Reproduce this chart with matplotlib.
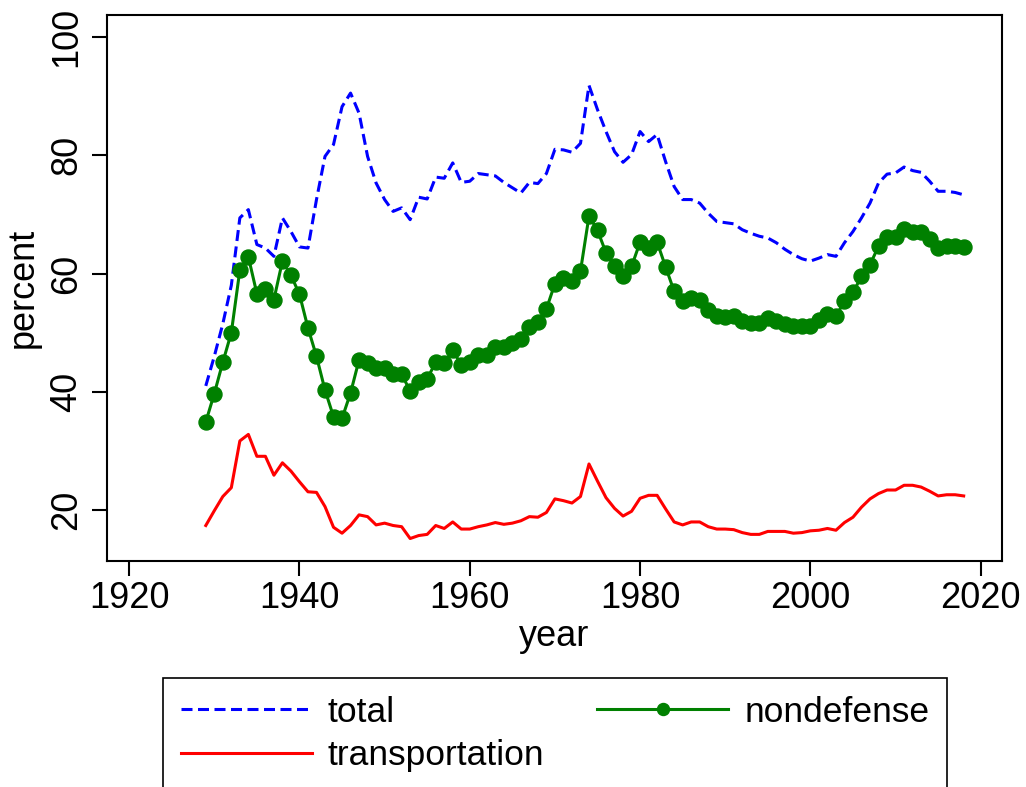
import matplotlib
matplotlib.use("Agg")
import matplotlib.pyplot as plt
import numpy as np

plt.rcParams['font.family'] = ['Liberation Sans', 'DejaVu Sans']

years = list(range(1929, 2019))

total = [41.0, 46.0, 51.5, 58.0, 69.4, 70.8, 64.9, 64.3, 62.9, 69.4,
         67.1, 64.5, 64.3, 72.5, 79.8, 81.8, 88.2, 90.5, 87.1, 79.8,
         75.3, 72.5, 70.5, 71.1, 69.1, 72.9, 72.6, 76.3, 76.1, 78.7,
         75.4, 75.6, 76.9, 76.7, 76.5, 75.4, 74.5, 73.6, 75.4, 75.2,
         76.9, 81.0, 80.9, 80.5, 82.0, 91.8, 87.7, 84.0, 80.6, 78.8,
         80.1, 84.0, 82.3, 83.5, 78.9, 74.7, 72.5, 72.5, 71.9, 70.2,
         68.8, 68.6, 68.4, 67.4, 66.8, 66.3, 66.0, 65.2, 64.1, 63.2,
         62.5, 62.1, 62.6, 63.2, 62.9, 65.2, 67.1, 69.4, 71.9, 75.3,
         76.8, 77.0, 78.0, 77.4, 77.1, 75.6, 73.9, 73.9, 73.7, 73.3]

nondefense = [34.9, 39.7, 45.0, 50.0, 60.6, 62.8, 56.6, 57.4, 55.6, 62.1,
              59.7, 56.5, 50.8, 46.0, 40.3, 35.8, 35.5, 39.8, 45.4, 44.9,
              44.0, 44.1, 43.0, 43.0, 40.1, 41.7, 42.2, 45.0, 44.8, 47.0,
              44.6, 45.0, 46.3, 46.3, 47.5, 47.6, 48.2, 49.0, 51.0, 51.8,
              54.0, 58.3, 59.3, 58.7, 60.4, 69.7, 67.3, 63.5, 61.2, 59.5,
              61.2, 65.3, 64.3, 65.3, 61.1, 57.0, 55.3, 55.9, 55.6, 53.9,
              52.8, 52.7, 52.8, 51.9, 51.7, 51.6, 52.4, 51.9, 51.5, 51.1,
              51.1, 51.2, 52.1, 53.1, 52.8, 55.3, 56.8, 59.5, 61.5, 64.6,
              66.2, 66.2, 67.5, 67.0, 67.0, 65.9, 64.3, 64.6, 64.6, 64.4]

transportation = [17.4, 19.9, 22.3, 23.8, 31.7, 32.8, 29.1, 29.1, 25.9, 28.0,
                  26.6, 24.8, 23.1, 23.0, 20.6, 17.1, 16.1, 17.4, 19.2, 18.9,
                  17.5, 17.8, 17.4, 17.2, 15.2, 15.7, 15.9, 17.4, 16.9, 18.0,
                  16.8, 16.8, 17.2, 17.5, 17.9, 17.6, 17.8, 18.2, 18.9, 18.8,
                  19.6, 21.9, 21.6, 21.2, 22.3, 27.8, 24.9, 22.1, 20.3, 19.0,
                  19.8, 22.0, 22.5, 22.5, 20.2, 18.0, 17.5, 18.0, 18.0, 17.2,
                  16.8, 16.8, 16.7, 16.2, 15.9, 15.9, 16.4, 16.4, 16.4, 16.1,
                  16.2, 16.5, 16.6, 16.9, 16.6, 17.9, 18.8, 20.5, 21.9, 22.8,
                  23.4, 23.4, 24.2, 24.2, 23.9, 23.2, 22.4, 22.6, 22.6, 22.4]

xticks = [1920, 1940, 1960, 1980, 2000, 2020]
yticks = [20, 40, 60, 80, 100]

fig = plt.figure(figsize=(10.26, 7.87), dpi=100)
ax = fig.add_axes([107/1026, 1-561/787, (1002-107)/1026, (561-15)/787])

l_total, = ax.plot(years, total, color='blue', lw=2.2, linestyle=(0, (3.6, 1.8)),
                   label='total')
l_trans, = ax.plot(years, transportation, color='red', lw=2.2, label='transportation')
l_nond, = ax.plot(years, nondefense, color='green', lw=2.2, marker='o',
                  markersize=10.8, label='nondefense')

ax.set_xlim(1917.4, 2022.5)
ax.set_ylim(11.4, 103.7)
ax.set_xticks(xticks)
ax.set_yticks(yticks)
ax.tick_params(axis='both', labelsize=26, length=10.5, width=1.5, direction='out')
ax.tick_params(axis='x', pad=4)
ax.tick_params(axis='y', pad=6)
for lab in ax.get_yticklabels():
    lab.set_rotation(90)
    lab.set_va('center')
for s in ax.spines.values():
    s.set_linewidth(1.5)

ax.set_xlabel('year', fontsize=26, labelpad=2)
ax.set_ylabel('percent', fontsize=26, labelpad=6)

leg = fig.legend(handles=[l_total, l_trans, l_nond], ncol=2, fontsize=25.5,
                 loc='upper left', bbox_to_anchor=(163/1026, 0.0, (947-163)/1026, 1-678/787),
                 mode='expand', frameon=True, fancybox=False, edgecolor='black',
                 framealpha=1, handlelength=3.7, handletextpad=0.45, labelspacing=0.3,
                 borderpad=0.5, borderaxespad=0, numpoints=1, markerscale=0.8)
leg.get_frame().set_linewidth(1.2)

fig.savefig('out.png', dpi=100)
